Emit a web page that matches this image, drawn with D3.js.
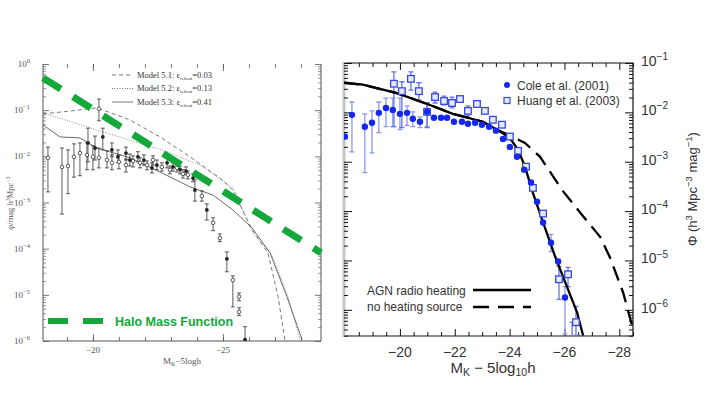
<!DOCTYPE html>
<html>
<head>
<meta charset="utf-8">
<script src="https://cdn.jsdelivr.net/npm/d3@7"></script>
<style>
body { margin: 0; background: #fff; }
svg { display: block; }
</style>
</head>
<body>
<div id="chart"></div>
<script>
/* ---------- left panel data (M_K - 5logh, log10 phi) ---------- */
var model51M   = [-18.08, -19.12, -20.15, -21.42, -22.58, -23.73, -24.88, -25.38, -26.12, -26.73, -27.12, -27.38];
var model51Log = [-1.08, -1.02, -0.95, -1.21, -1.58, -2.01, -2.47, -2.73, -3.59, -4.09, -5.04, -5.97];

var model52M   = [-18.08, -20.27, -22.85, -24.12, -25.38, -26.15, -26.88, -27.50, -27.96];
var model52Log = [-1.06, -1.45, -1.90, -2.19, -2.68, -3.66, -4.13, -5.04, -5.97];

var model53M   = [-18.08, -18.73, -19.50, -20.15, -21.42, -22.58, -23.73, -24.62, -25.38, -26.12, -26.81, -27.46, -28.04];
var model53Log = [-1.32, -1.58, -1.60, -1.82, -2.03, -2.34, -2.66, -2.84, -3.16, -3.55, -4.09, -5.04, -5.97];

var haloM   = [-18.08, -28.77];
var haloLog = [-0.30, -4.09];

var openM   = [-18.27, -18.81, -19.04, -19.27, -19.50, -19.77, -20.00, -20.23, -20.23, -20.54, -20.73, -21.00, -21.27, -21.54,
               -21.81, -22.08, -22.31, -22.65, -22.96, -23.23, -23.46, -23.65, -24.19, -24.62, -24.88, -25.38, -25.62, -25.62];
var openLog = [-2.03, -2.23, -2.21, -2.01, -1.93, -1.97, -2.01, -0.97, -2.03, -2.08, -2.14, -2.12, -2.19, -2.10,
               -2.14, -2.19, -2.08, -2.23, -2.29, -2.25, -2.38, -2.40, -2.86, -3.44, -3.77, -4.68, -5.04, -5.37];
var openLo  = [-2.77, -3.25, -2.81, -2.45, -2.42, -2.29, -2.29, -1.23, -2.25, -2.25, -2.29, -2.27, -2.34, -2.23,
               -2.25, -2.29, -2.19, -2.32, -2.38, -2.34, -2.47, -2.49, -2.97, -3.61, -3.85, -5.26, -5.13, -5.45];
var openHi  = [-1.80, -1.82, -1.86, -1.73, -1.71, -1.71, -1.77, -0.76, -1.82, -1.88, -1.97, -1.97, -2.06, -1.99,
               -2.03, -2.10, -1.99, -2.14, -2.21, -2.16, -2.29, -2.32, -2.75, -3.33, -3.68, -4.59, -4.96, -5.28];

var fillM   = [-19.81, -20.08, -20.38, -20.73, -20.96, -21.27, -21.42, -21.73, -21.96, -22.27, -22.46, -22.85, -23.08, -23.35,
               -23.58, -23.85, -23.92, -24.38, -25.15, -25.85];
var fillLog = [-1.71, -1.82, -1.58, -1.86, -2.01, -1.93, -2.08, -2.01, -2.08, -2.25, -2.19, -2.14, -2.23, -2.29,
               -2.32, -2.47, -2.73, -3.16, -4.22, -5.97];
var fillLo  = [-2.12, -2.08, -1.86, -2.01, -2.14, -2.08, -2.21, -2.12, -2.19, -2.36, -2.29, -2.25, -2.32, -2.38,
               -2.40, -2.55, -2.97, -3.38, -4.50, -6.08];
var fillHi  = [-1.39, -1.56, -1.39, -1.71, -1.86, -1.80, -1.95, -1.90, -1.97, -2.14, -2.08, -2.03, -2.14, -2.21,
               -2.23, -2.38, -2.51, -3.03, -4.07, -5.69];

var modelLabels = ["Model 5.1: ", "Model 5.2: ", "Model 5.3: "];
var modelEps = ["0.03", "0.13", "0.41"];

/* ---------- right panel data ---------- */
var agnM   = [-17.96, -18.65, -19.89, -21.09, -21.93, -23.03, -23.54, -24.01, -24.31, -24.56, -24.85, -25.22, -25.66, -26.09, -26.46, -26.68];
var agnLog = [-1.40, -1.44, -1.61, -1.85, -2.03, -2.19, -2.35, -2.52, -2.76, -3.10, -3.63, -4.23, -4.92, -5.53, -6.05, -6.52];

var noHeatM   = [-17.96, -18.65, -19.89, -21.09, -21.93, -23.03, -23.54, -24.01, -24.56, -25.11, -25.91, -26.57, -27.30, -27.66, -28.14, -28.50];
var noHeatLog = [-1.40, -1.44, -1.61, -1.85, -2.03, -2.19, -2.35, -2.47, -2.62, -2.90, -3.57, -4.03, -4.52, -4.94, -5.65, -6.39];

var coleM   = [-17.99, -18.25, -18.72, -18.98, -19.23, -19.49, -19.74, -20.00, -20.26, -20.47, -20.73, -20.99, -21.24, -21.50, -21.72, -21.97,
               -22.26, -22.48, -22.74, -22.99, -23.25, -23.50, -23.76, -24.01, -24.27, -24.53, -24.78, -25.00, -25.22, -25.51, -25.77, -26.02];
var coleLog = [-2.49, -2.05, -2.29, -2.21, -2.01, -1.91, -1.95, -2.03, -2.01, -2.13, -2.19, -1.99, -2.11, -2.11, -2.11, -2.19,
               -2.19, -2.23, -2.21, -2.25, -2.29, -2.37, -2.54, -2.70, -2.90, -3.16, -3.42, -3.81, -4.23, -4.64, -5.02, -5.75];
var coleLo  = [-2.49, -2.80, -3.22, -2.82, -2.41, -2.29, -2.29, -2.35, -2.27, -2.29, -2.31, -2.29, -2.11, -2.11, -2.11, -2.19,
               -2.19, -2.23, -2.21, -2.25, -2.29, -2.37, -2.54, -2.70, -2.90, -3.16, -3.42, -3.81, -4.23, -4.82, -5.02, -6.49];
var coleHi  = [-2.49, -1.79, -2.03, -1.97, -1.79, -1.71, -1.71, -1.71, -1.87, -1.99, -2.09, -1.81, -2.11, -2.11, -2.11, -2.19,
               -2.19, -2.23, -2.21, -2.25, -2.29, -2.37, -2.54, -2.70, -2.90, -3.16, -3.42, -3.81, -4.23, -4.47, -5.02, -5.53];

var huangM   = [-19.78, -20.07, -20.40, -20.69, -20.99, -21.28, -21.61, -21.90, -22.19, -22.48, -22.81, -23.10, -23.39, -23.72,
                -24.01, -24.31, -24.60, -24.85, -25.22, -25.80, -26.13, -26.42, -26.28];
var huangLog = [-1.42, -1.57, -1.32, -1.57, -1.99, -1.69, -1.77, -1.81, -1.73, -1.97, -1.83, -1.97, -2.15, -2.25,
                -2.49, -2.78, -3.10, -3.53, -4.05, -5.38, -5.28, -6.25, -6.70];
var huangLo  = [-2.29, -2.31, -1.55, -1.75, -2.31, -1.81, -1.85, -1.91, -1.73, -2.07, -1.83, -1.97, -2.15, -2.25,
                -2.49, -2.78, -3.10, -3.53, -4.05, -5.79, -5.53, -6.52, -7.00];
var huangHi  = [-1.18, -1.38, -1.18, -1.40, -1.81, -1.59, -1.67, -1.69, -1.73, -1.87, -1.83, -1.97, -2.15, -2.25,
                -2.49, -2.78, -3.10, -3.53, -4.05, -5.12, -5.14, -5.93, -6.25];

var rightXTicks = [-20, -22, -24, -26, -28];
var leftXTicks = [-20, -25];

var width = 706,
    height = 397;

var svg = d3.select("#chart")
    .append("svg")
    .attr("width", width)
    .attr("height", height);

var p10 = function(v) { return Math.pow(10, v); };
var zip = function(a, b) { return a.map(function(d, i) { return [d, b[i]]; }); };

/* log tick helper */
var logTicks = function(eMin, eMax, lo, hi) {
    var major = [], minor = [];
    for (var e = eMin; e <= eMax; e++) {
        major.push(p10(e));
        for (var k = 2; k < 10; k++) {
            var v = k * p10(e);
            if (v >= lo && v <= hi) minor.push(v);
        }
    }
    return { major: major, minor: minor };
};

var drawTicks = function(axisFn, scale, values, size, tx, ty, color, sw) {
    var g = svg.append("g")
        .attr("transform", "translate(" + tx + "," + ty + ")")
        .style("color", color)
        .call(axisFn(scale).tickValues(values).tickSize(size).tickFormat(""));
    g.select(".domain").remove();
    g.selectAll("line").attr("stroke-width", sw);
};

var supText = function(g, x, y, base, exp, size, anchor, color, family) {
    var t = g.append("text")
        .attr("x", x).attr("y", y)
        .attr("text-anchor", anchor)
        .attr("font-family", family)
        .attr("font-size", size)
        .attr("fill", color);
    t.append("tspan").text(base);
    t.append("tspan").attr("dy", -size * 0.42).attr("font-size", size * 0.72).text(exp);
    return t;
};

/* ================= LEFT PANEL ================= */
var xL = d3.scaleLinear().domain([-18.08, -28.77]).range([43, 321]);
var yL = d3.scaleLog().domain([1e-6, 1]).range([341, 64]);
var lineL = d3.line().x(function(d) { return xL(d[0]); }).y(function(d) { return yL(p10(d[1])); });

var defs = svg.append("defs");
defs.append("clipPath").attr("id", "clipL").append("rect")
    .attr("x", 43).attr("y", 64).attr("width", 278).attr("height", 277);
defs.append("clipPath").attr("id", "clipR").append("rect")
    .attr("x", 344).attr("y", 63).attr("width", 289).attr("height", 273);

var gray = "#555";
var serif = "'Liberation Serif', 'DejaVu Serif', serif";

/* frame (top edge is missing in the scan) */
svg.append("path")
    .attr("d", "M43,64V341H321V64")
    .attr("fill", "none").attr("stroke", gray).attr("stroke-width", 1);

var tL = logTicks(-6, 0, 1e-6, 1);
drawTicks(d3.axisRight, yL, tL.major, 6, 43, 0, gray, 0.8);
drawTicks(d3.axisRight, yL, tL.minor, 3, 43, 0, gray, 0.6);
drawTicks(d3.axisLeft, yL, tL.major, 6, 321, 0, gray, 0.8);
drawTicks(d3.axisLeft, yL, tL.minor, 3, 321, 0, gray, 0.6);
var xMinL = d3.range(-19, -29, -1);
drawTicks(d3.axisTop, xL, xMinL, 4, 0, 341, gray, 0.8);
drawTicks(d3.axisTop, xL, leftXTicks, 7, 0, 341, gray, 0.8);
drawTicks(d3.axisBottom, xL, xMinL, 4, 0, 64, gray, 0.8);
drawTicks(d3.axisBottom, xL, leftXTicks, 7, 0, 64, gray, 0.8);

/* tick labels */
tL.major.forEach(function(v) {
    var e = Math.round(Math.log10(v));
    supText(svg, 30, yL(v) + 3, "10", e === 0 ? "0" : "\u2212" + (-e), 9, "end", gray, serif);
});
leftXTicks.forEach(function(v) {
    svg.append("text").attr("x", xL(v)).attr("y", 353)
        .attr("text-anchor", "middle").attr("font-family", serif)
        .attr("font-size", 9).attr("fill", gray).text("\u2212" + (-v));
});

var xtl = svg.append("text").attr("x", 182).attr("y", 364)
    .attr("text-anchor", "middle").attr("font-family", serif)
    .attr("font-size", 9).attr("fill", gray);
xtl.append("tspan").text("M");
xtl.append("tspan").attr("dy", 2).attr("font-size", 6).text("K");
xtl.append("tspan").attr("dy", -2).text("\u22125logh");

var ytl = svg.append("text")
    .attr("transform", "translate(13,203) rotate(-90)")
    .attr("text-anchor", "middle").attr("font-family", serif)
    .attr("font-size", 8.5).attr("fill", gray);
ytl.append("tspan").text("\u03c6/mag h");
ytl.append("tspan").attr("dy", -3).attr("font-size", 6).text("3");
ytl.append("tspan").attr("dy", 3).text("Mpc");
ytl.append("tspan").attr("dy", -3).attr("font-size", 6).text("\u22123");

/* model curves */
var gL = svg.append("g").attr("clip-path", "url(#clipL)");
gL.append("path").datum(zip(model51M, model51Log)).attr("d", lineL)
    .attr("fill", "none").attr("stroke", "#555").attr("stroke-width", 0.8).attr("stroke-dasharray", "4,3");
gL.append("path").datum(zip(model52M, model52Log)).attr("d", lineL)
    .attr("fill", "none").attr("stroke", "#777").attr("stroke-width", 0.8).attr("stroke-dasharray", "1,1.5");
gL.append("path").datum(zip(model53M, model53Log)).attr("d", lineL)
    .attr("fill", "none").attr("stroke", "#444").attr("stroke-width", 0.8);

/* data points with error bars */
var drawErrL = function(M, lo, hi) {
    M.forEach(function(m, i) {
        if (lo[i] === hi[i]) return;
        var x = xL(m), y1 = yL(p10(lo[i])), y2 = yL(p10(hi[i]));
        gL.append("path")
            .attr("d", "M" + x + "," + y1 + "V" + y2 + "M" + (x - 2) + "," + y1 + "H" + (x + 2) + "M" + (x - 2) + "," + y2 + "H" + (x + 2))
            .attr("fill", "none").attr("stroke", "#333").attr("stroke-width", 0.8);
    });
};
drawErrL(openM, openLo, openHi);
drawErrL(fillM, fillLo, fillHi);

gL.selectAll("circle.open").data(zip(openM, openLog)).enter().append("circle")
    .attr("class", "open")
    .attr("cx", function(d) { return xL(d[0]); })
    .attr("cy", function(d) { return yL(p10(d[1])); })
    .attr("r", 1.8).attr("fill", "#fff").attr("stroke", "#333").attr("stroke-width", 0.8);
gL.selectAll("circle.fill").data(zip(fillM, fillLog)).enter().append("circle")
    .attr("class", "fill")
    .attr("cx", function(d) { return xL(d[0]); })
    .attr("cy", function(d) { return yL(p10(d[1])); })
    .attr("r", 1.9).attr("fill", "#222");

/* legend of models */
var legDash = ["4,3", "1,1.5", null];
modelLabels.forEach(function(lab, i) {
    var y = 75 + i * 13.5;
    var ln = svg.append("line").attr("x1", 112).attr("x2", 133).attr("y1", y).attr("y2", y)
        .attr("stroke", "#555").attr("stroke-width", 0.8);
    if (legDash[i]) ln.attr("stroke-dasharray", legDash[i]);
    var t = svg.append("text").attr("x", 137).attr("y", y + 2.8)
        .attr("font-family", serif).attr("font-size", 8.5).attr("fill", "#333");
    t.append("tspan").text(lab + "\u03b5");
    t.append("tspan").attr("dy", 2).attr("font-size", 5).text("reheat");
    t.append("tspan").attr("dy", -2).text("=" + modelEps[i]);
});

/* halo mass function overlay */
var green = "#12a83a";
svg.append("path").datum(zip(haloM, haloLog)).attr("d", lineL)
    .attr("fill", "none").attr("stroke", green).attr("stroke-width", 7)
    .attr("stroke-dasharray", "21,14.5");
svg.append("line").attr("x1", 48).attr("x2", 103).attr("y1", 321).attr("y2", 321)
    .attr("stroke", green).attr("stroke-width", 6).attr("stroke-dasharray", "20,15");
svg.append("text").attr("x", 115).attr("y", 326)
    .attr("font-family", "'Liberation Sans', Arial, sans-serif").attr("font-weight", "bold")
    .attr("font-size", 12.5).attr("fill", green).text("Halo Mass Function");

/* ================= RIGHT PANEL ================= */
var xR = d3.scaleLinear().domain([-17.96, -28.5]).range([344, 633]);
var yR = d3.scaleLog().domain([p10(-6.53), 0.1]).range([336, 63]);
var lineR = d3.line().x(function(d) { return xR(d[0]); }).y(function(d) { return yR(p10(d[1])); });
var sans = "'Liberation Sans', Arial, sans-serif";
var ink = "#333";

/* frame */
svg.append("path").attr("d", "M344,63H633V336H344")
    .attr("fill", "none").attr("stroke", "#111").attr("stroke-width", 1.2);
svg.append("line").attr("x1", 344).attr("x2", 344).attr("y1", 62).attr("y2", 337)
    .attr("stroke", "#c4c4c4").attr("stroke-width", 3);

var tR = logTicks(-7, -1, p10(-6.53), 0.1);
var majR = tR.major.filter(function(v) { return v >= p10(-6.53); });
drawTicks(d3.axisRight, yR, majR, 8, 344, 0, "#111", 1);
drawTicks(d3.axisRight, yR, tR.minor, 4, 344, 0, "#111", 1);
drawTicks(d3.axisLeft, yR, majR, 8, 633, 0, "#111", 1);
drawTicks(d3.axisLeft, yR, tR.minor, 4, 633, 0, "#111", 1);
var xMinR = d3.range(-18, -28.6, -0.5).filter(function(v) { return v % 2 !== 0; });
drawTicks(d3.axisTop, xR, xMinR, 4, 0, 336, "#111", 1);
drawTicks(d3.axisTop, xR, rightXTicks, 7, 0, 336, "#111", 1);
drawTicks(d3.axisBottom, xR, xMinR, 4, 0, 63, "#111", 1);
drawTicks(d3.axisBottom, xR, rightXTicks, 7, 0, 63, "#111", 1);

rightXTicks.forEach(function(v) {
    svg.append("text").attr("x", xR(v)).attr("y", 357)
        .attr("text-anchor", "middle").attr("font-family", sans)
        .attr("font-size", 14).attr("fill", ink).text("\u2212" + (-v));
});
majR.forEach(function(v) {
    var e = Math.round(Math.log10(v));
    supText(svg, 641, yR(v) + 3, "10", "\u2212" + (-e), 14, "start", ink, sans);
});

var xtr = svg.append("text").attr("x", 493).attr("y", 373)
    .attr("text-anchor", "middle").attr("font-family", sans)
    .attr("font-size", 15).attr("fill", ink);
xtr.append("tspan").text("M");
xtr.append("tspan").attr("dy", 3).attr("font-size", 10.5).text("K");
xtr.append("tspan").attr("dy", -3).text(" \u2212 5log");
xtr.append("tspan").attr("dy", 3).attr("font-size", 10.5).text("10");
xtr.append("tspan").attr("dy", -3).text("h");

var ytr = svg.append("text")
    .attr("transform", "translate(697,246) rotate(-90)")
    .attr("text-anchor", "start").attr("font-family", sans)
    .attr("font-size", 13).attr("fill", ink);
ytr.append("tspan").text("\u03a6 (h");
ytr.append("tspan").attr("dy", -5).attr("font-size", 9.5).text("3");
ytr.append("tspan").attr("dy", 5).text(" Mpc");
ytr.append("tspan").attr("dy", -5).attr("font-size", 9.5).text("\u22123");
ytr.append("tspan").attr("dy", 5).text(" mag");
ytr.append("tspan").attr("dy", -5).attr("font-size", 9.5).text("\u22121");
ytr.append("tspan").attr("dy", 5).text(")");

var gR = svg.append("g").attr("clip-path", "url(#clipR)");

/* error bars */
var drawErrR = function(M, lo, hi, color) {
    M.forEach(function(m, i) {
        if (lo[i] === hi[i]) return;
        var x = xR(m), y1 = yR(p10(lo[i])), y2 = yR(p10(hi[i]));
        gR.append("path")
            .attr("d", "M" + x + "," + y1 + "V" + y2 + "M" + (x - 2.5) + "," + y1 + "H" + (x + 2.5) + "M" + (x - 2.5) + "," + y2 + "H" + (x + 2.5))
            .attr("fill", "none").attr("stroke", color).attr("stroke-width", 1.3);
    });
};
drawErrR(coleM, coleLo, coleHi, "#8c98ee");
drawErrR(huangM, huangLo, huangHi, "#6474e4");

/* model curves */
gR.append("path").datum(zip(agnM, agnLog)).attr("d", lineR)
    .attr("fill", "none").attr("stroke", "#000").attr("stroke-width", 2.3);
gR.append("path").datum(zip(noHeatM, noHeatLog)).attr("d", lineR)
    .attr("fill", "none").attr("stroke", "#000").attr("stroke-width", 2.3)
    .attr("stroke-dasharray", "15,8");

/* markers */
gR.selectAll("rect.huang").data(zip(huangM, huangLog)).enter().append("rect")
    .attr("class", "huang")
    .attr("x", function(d) { return xR(d[0]) - 3.3; })
    .attr("y", function(d) { return yR(p10(d[1])) - 3.3; })
    .attr("width", 6.6).attr("height", 6.6)
    .attr("fill", "#e6eaff").attr("stroke", "#3548dc").attr("stroke-width", 1.3);
gR.selectAll("circle.cole").data(zip(coleM, coleLog)).enter().append("circle")
    .attr("class", "cole")
    .attr("cx", function(d) { return xR(d[0]); })
    .attr("cy", function(d) { return yR(p10(d[1])); })
    .attr("r", 3.2).attr("fill", "#1428f2");

/* legends */
svg.append("circle").attr("cx", 507).attr("cy", 85).attr("r", 3).attr("fill", "#1428f2");
svg.append("text").attr("x", 517).attr("y", 89.5).attr("font-family", sans)
    .attr("font-size", 12).attr("fill", ink).text("Cole et al. (2001)");
svg.append("rect").attr("x", 504).attr("y", 97.5).attr("width", 6).attr("height", 6)
    .attr("fill", "#e6eaff").attr("stroke", "#3548dc").attr("stroke-width", 1.2);
svg.append("text").attr("x", 517).attr("y", 105).attr("font-family", sans)
    .attr("font-size", 12).attr("fill", ink).text("Huang et al. (2003)");

svg.append("text").attr("x", 367).attr("y", 295).attr("font-family", sans)
    .attr("font-size", 12).attr("fill", ink).text("AGN radio heating");
svg.append("line").attr("x1", 473).attr("x2", 531).attr("y1", 290).attr("y2", 290)
    .attr("stroke", "#000").attr("stroke-width", 2.3);
svg.append("text").attr("x", 367).attr("y", 311).attr("font-family", sans)
    .attr("font-size", 12).attr("fill", ink).text("no heating source");
svg.append("line").attr("x1", 473).attr("x2", 531).attr("y1", 307).attr("y2", 307)
    .attr("stroke", "#000").attr("stroke-width", 2.3).attr("stroke-dasharray", "16,9");
</script>
</body>
</html>
